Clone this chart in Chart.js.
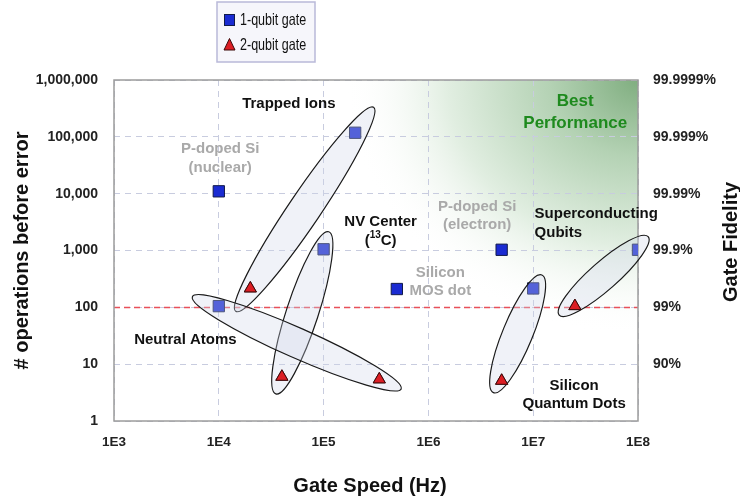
<!DOCTYPE html>
<html><head><meta charset="utf-8">
<script src="https://cdn.jsdelivr.net/npm/chart.js@4"></script>
<style>html,body{margin:0;padding:0;background:#fff}canvas{display:block}</style>
</head><body>
<canvas id="c" width="740" height="500"></canvas>
<script>
// ---- data ----
const xTickValues = [1e3, 1e4, 1e5, 1e6, 1e7, 1e8];
const xTickLabels = ['1E3', '1E4', '1E5', '1E6', '1E7', '1E8'];
const yTickValues = [1, 10, 100, 1000, 10000, 100000, 1000000];
const yTickLabels = ['1', '10', '100', '1,000', '10,000', '100,000', '1,000,000'];
const fidelityTickValues = [10, 100, 1000, 10000, 100000, 1000000];
const fidelityTickLabels = ['90%', '99%', '99.9%', '99.99%', '99.999%', '99.9999%'];

const seriesNames = ['1-qubit gate', '2-qubit gate'];
// 1-qubit gate: P-doped Si (nuclear), Trapped Ions, NV Center, Neutral Atoms, Si MOS dot, P-doped Si (electron), Superconducting, Si Quantum Dots
const oneQubitSpeed = [1e4, 2e5, 1e5, 1e4, 5e5, 5e6, 1e8, 1e7];
const oneQubitOps   = [11000, 118000, 1050, 105, 210, 1030, 1030, 215];
// 2-qubit gate: Trapped Ions, NV Center, Neutral Atoms, Superconducting, Si Quantum Dots
const twoQubitSpeed = [2e4, 4e4, 3.4e5, 2.5e7, 5e6];
const twoQubitOps   = [215, 6, 5.4, 105, 5.1];

const thresholdOps = 100;

// group ellipses: major-axis end points in data space, half width in px
const groupEllipses = [
  { from: [1.45e4, 85],  to: [3.0e5, 3.3e5],  halfWidth: 16 },   // Trapped Ions
  { from: [3.5e4, 3.0],  to: [1.12e5, 2140],  halfWidth: 16 },   // NV Center
  { from: [5.6e3, 154],  to: [5.5e5, 3.66],   halfWidth: 15 },   // Neutral Atoms
  { from: [4.17e6, 3.15], to: [1.21e7, 371],  halfWidth: 15 },   // Si Quantum Dots
  { from: [1.77e7, 73],  to: [1.25e8, 1750],  halfWidth: 14 }    // Superconducting
];

const groupLabels = [
  { lines: ['Trapped Ions'], x: 4.66e4, y: 3.8e5, color: '#111', align: 'center' },
  { lines: ['P-doped Si', '(nuclear)'], x: 1.03e4, y: 6.1e4, color: '#a9a9a9', align: 'center' },
  { lines: ['NV Center', '(¹³C)'], x: 3.5e5, y: 3170, color: '#111', align: 'center', sup: true },
  { lines: ['Silicon', 'MOS dot'], x: 1.3e6, y: 407, color: '#a9a9a9', align: 'center' },
  { lines: ['P-doped Si', '(electron)'], x: 2.92e6, y: 5900, color: '#a9a9a9', align: 'center' },
  { lines: ['Superconducting', 'Qubits'], x: 1.03e7, y: 4390, color: '#111', align: 'left' },
  { lines: ['Neutral Atoms'], x: 4.8e3, y: 26.6, color: '#111', align: 'center' },
  { lines: ['Silicon', 'Quantum Dots'], x: 2.46e7, y: 4.18, color: '#111', align: 'center' },
  { lines: ['Best', 'Performance'], x: 2.52e7, y: 4.27e5, color: '#1e8a1e', align: 'center', big: true }
];

const FONT = "'Liberation Sans', Arial, sans-serif";
const SQ_FILL = '#1a2bd2', SQ_LINE = '#111a4a';
const TR_FILL = '#dc1e24', TR_LINE = '#3a0808';

function drawEllipses(chart) {
  const { ctx, scales } = chart;
  const xs = scales.x, ys = scales.y;
  ctx.save();
  ctx.fillStyle = 'rgba(208,216,232,0.32)';
  ctx.strokeStyle = '#1a1a1a';
  ctx.lineWidth = 1.2;
  for (const e of groupEllipses) {
    const x1 = xs.getPixelForValue(e.from[0]), y1 = ys.getPixelForValue(e.from[1]);
    const x2 = xs.getPixelForValue(e.to[0]), y2 = ys.getPixelForValue(e.to[1]);
    const cx = (x1 + x2) / 2, cy = (y1 + y2) / 2;
    const rx = Math.hypot(x2 - x1, y2 - y1) / 2;
    const ang = Math.atan2(y2 - y1, x2 - x1);
    ctx.beginPath();
    ctx.ellipse(cx, cy, rx, e.halfWidth, ang, 0, Math.PI * 2);
    ctx.fill();
    ctx.stroke();
  }
  ctx.restore();
}

const decor = {
  id: 'decor',
  beforeDraw(chart) {
    const { ctx, chartArea: a } = chart;
    ctx.save();
    ctx.fillStyle = '#fff';
    ctx.fillRect(0, 0, chart.width, chart.height);
    ctx.beginPath();
    ctx.rect(a.left, a.top, a.right - a.left, a.bottom - a.top);
    ctx.clip();
    ctx.translate(a.right, a.top);
    ctx.scale(1.15, 1);
    const g = ctx.createRadialGradient(0, 0, 0, 0, 0, 255);
    g.addColorStop(0, 'rgba(128,174,128,1)');
    g.addColorStop(0.3, 'rgba(180,210,180,1)');
    g.addColorStop(0.65, 'rgba(225,238,225,1)');
    g.addColorStop(1, 'rgba(255,255,255,0)');
    ctx.fillStyle = g;
    ctx.fillRect(-600, 0, 600, 400);
    ctx.restore();
  },
  beforeDatasetsDraw(chart) {
    const { ctx, chartArea: a, scales } = chart;
    ctx.save();
    const yr = Math.round(scales.y.getPixelForValue(thresholdOps)) + 0.5;
    ctx.strokeStyle = '#e8505a';
    ctx.lineWidth = 1.3;
    ctx.setLineDash([6, 4]);
    ctx.beginPath(); ctx.moveTo(a.left, yr); ctx.lineTo(a.right, yr); ctx.stroke();
    ctx.setLineDash([]);
    ctx.strokeStyle = '#9c9c9c';
    ctx.lineWidth = 1.5;
    ctx.strokeRect(a.left, a.top, a.right - a.left, a.bottom - a.top);
    ctx.restore();
  },
  // datasets are drawn from the highest index down: triangles (1) first, then squares (0).
  // Draw the ellipses over the squares, then redraw the triangles on top.
  afterDatasetsDraw(chart) {
    drawEllipses(chart);
    const meta = chart.getDatasetMeta(1);
    meta.controller.draw();
    const { ctx, scales } = chart;
    const xs = scales.x, ys = scales.y;
    ctx.save();
    ctx.textBaseline = 'middle';
    for (const l of groupLabels) {
      const px = xs.getPixelForValue(l.x), py = ys.getPixelForValue(l.y);
      const size = l.big ? 17 : 15;
      const lh = l.big ? 22 : 18.5;
      ctx.fillStyle = l.color;
      l.lines.forEach((t, i) => {
        const yy = py + i * lh;
        if (l.sup && i === 1) {
          ctx.font = `bold ${size}px ${FONT}`;
          const wOpen = ctx.measureText('(').width, wRest = ctx.measureText('C)').width;
          ctx.font = `bold 10px ${FONT}`;
          const wSup = ctx.measureText('13').width;
          let sx = px - (wOpen + wSup + wRest) / 2;
          ctx.textAlign = 'left';
          ctx.font = `bold ${size}px ${FONT}`;
          ctx.fillText('(', sx, yy); sx += wOpen;
          ctx.font = `bold 10px ${FONT}`;
          ctx.fillText('13', sx, yy - 5); sx += wSup;
          ctx.font = `bold ${size}px ${FONT}`;
          ctx.fillText('C)', sx, yy);
        } else {
          ctx.font = `bold ${size}px ${FONT}`;
          ctx.textAlign = l.align;
          ctx.fillText(t, px, yy);
        }
      });
    }
    ctx.restore();
  },
  afterDraw(chart) {
    const { ctx, chartArea: a } = chart;
    ctx.save();
    ctx.fillStyle = '#111';
    ctx.font = `bold 20px ${FONT}`;
    ctx.textAlign = 'center';
    ctx.textBaseline = 'middle';
    ctx.fillText('Gate Speed (Hz)', 370, 486);
    ctx.save();
    ctx.translate(22, (a.top + a.bottom) / 2);
    ctx.rotate(-Math.PI / 2);
    ctx.fillText('# operations before error', 0, 0);
    ctx.restore();
    ctx.save();
    ctx.translate(731, 242);
    ctx.rotate(-Math.PI / 2);
    ctx.fillText('Gate Fidelity', 0, 0);
    ctx.restore();
    // legend box
    ctx.fillStyle = '#f6f6fb';
    ctx.strokeStyle = '#b9b9d9';
    ctx.lineWidth = 1.5;
    ctx.fillRect(217, 2, 98, 60);
    ctx.strokeRect(217, 2, 98, 60);
    ctx.fillStyle = SQ_FILL; ctx.strokeStyle = SQ_LINE; ctx.lineWidth = 1;
    ctx.fillRect(224.5, 14.5, 10, 11); ctx.strokeRect(224.5, 14.5, 10, 11);
    ctx.fillStyle = TR_FILL; ctx.strokeStyle = TR_LINE;
    ctx.beginPath(); ctx.moveTo(229.5, 38.5); ctx.lineTo(235, 50); ctx.lineTo(224, 50); ctx.closePath();
    ctx.fill(); ctx.stroke();
    ctx.fillStyle = '#111';
    ctx.font = `16.5px ${FONT}`;
    ctx.textAlign = 'left';
    ctx.textBaseline = 'middle';
    [[seriesNames[0], 20], [seriesNames[1], 45]].forEach(([t, yy]) => {
      ctx.save();
      ctx.translate(240, yy);
      ctx.scale(0.76, 1);
      ctx.fillText(t, 0, 0);
      ctx.restore();
    });
    ctx.restore();
  }
};

const labelFor = (vals, labels) => (v) => {
  const i = vals.findIndex(t => Math.abs(t - v) / t < 1e-6);
  return i >= 0 ? labels[i] : '';
};

new Chart(document.getElementById('c'), {
  type: 'scatter',
  data: {
    datasets: [
      {
        label: seriesNames[0],
        data: oneQubitSpeed.map((s, i) => ({ x: s, y: oneQubitOps[i] })),
        pointStyle: 'rect', pointRadius: 8, pointHoverRadius: 8,
        backgroundColor: SQ_FILL, borderColor: SQ_LINE, borderWidth: 1
      },
      {
        label: seriesNames[1],
        data: twoQubitSpeed.map((s, i) => ({ x: s, y: twoQubitOps[i] })),
        pointStyle: 'triangle', pointRadius: 7, pointHoverRadius: 7,
        backgroundColor: TR_FILL, borderColor: TR_LINE, borderWidth: 1
      }
    ]
  },
  options: {
    responsive: false,
    animation: false,
    layout: { padding: { top: 80, left: 0, right: 0, bottom: 0 } },
    plugins: { legend: { display: false }, tooltip: { enabled: false } },
    scales: {
      x: {
        type: 'logarithmic', position: 'bottom', min: 1e3, max: 1e8,
        afterBuildTicks: s => { s.ticks = xTickValues.map(v => ({ value: v })); },
        afterFit: s => { s.height = 79; },
        ticks: { autoSkip: false, maxRotation: 0, padding: 13, color: '#222',
                 font: { family: FONT, size: 13.5, weight: 'bold' },
                 callback: labelFor(xTickValues, xTickLabels) },
        grid: { color: '#c8ccdf', lineWidth: 1, drawTicks: false },
        border: { display: false, dash: [6, 5] }
      },
      y: {
        type: 'logarithmic', position: 'left', min: 1, max: 1e6,
        afterBuildTicks: s => { s.ticks = yTickValues.map(v => ({ value: v })); },
        afterFit: s => { s.width = 114; },
        ticks: { autoSkip: false, padding: 16, color: '#222',
                 font: { family: FONT, size: 14, weight: 'bold' },
                 callback: labelFor(yTickValues, yTickLabels) },
        grid: { color: '#c8ccdf', lineWidth: 1, drawTicks: false },
        border: { display: false, dash: [6, 5] }
      },
      yRight: {
        type: 'logarithmic', position: 'right', min: 1, max: 1e6,
        afterBuildTicks: s => { s.ticks = fidelityTickValues.map(v => ({ value: v })); },
        afterFit: s => { s.width = 102; },
        ticks: { autoSkip: false, padding: 15, color: '#222',
                 font: { family: FONT, size: 14, weight: 'bold' },
                 callback: labelFor(fidelityTickValues, fidelityTickLabels) },
        grid: { drawOnChartArea: false, drawTicks: false },
        border: { display: false }
      }
    }
  },
  plugins: [decor]
});
</script>
</body></html>
